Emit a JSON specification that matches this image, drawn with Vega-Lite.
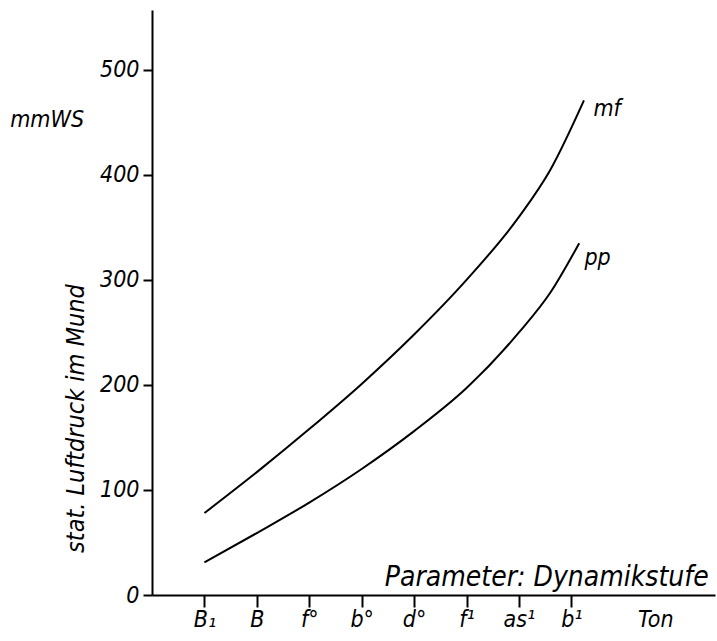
{
  "$schema": "https://vega.github.io/schema/vega-lite/v6.json",
  "width": 563,
  "height": 585,
  "autosize": "none",
  "padding": {"left": 152, "top": 10, "right": 2, "bottom": 46},
  "background": "white",
  "config": {
    "view": {"stroke": null},
    "font": "DejaVu Sans Condensed, DejaVu Sans",
    "axis": {
      "grid": false,
      "domainColor": "black",
      "domainWidth": 2,
      "tickColor": "black",
      "tickWidth": 2,
      "labelColor": "black",
      "labelFont": "DejaVu Sans Condensed, DejaVu Sans",
      "labelFontStyle": "italic",
      "labelFontSize": 23,
      "titleColor": "black",
      "titleFont": "DejaVu Sans Condensed, DejaVu Sans"
    }
  },
  "datasets": {
    "curves": [
      {"series": "mf", "x": 1, "y": 78},
      {"series": "mf", "x": 2, "y": 117},
      {"series": "mf", "x": 3, "y": 158},
      {"series": "mf", "x": 4, "y": 201},
      {"series": "mf", "x": 5, "y": 248},
      {"series": "mf", "x": 6, "y": 300},
      {"series": "mf", "x": 7, "y": 360},
      {"series": "mf", "x": 7.6, "y": 405},
      {"series": "mf", "x": 8.24, "y": 471},
      {"series": "pp", "x": 1, "y": 31},
      {"series": "pp", "x": 2, "y": 59},
      {"series": "pp", "x": 3, "y": 88},
      {"series": "pp", "x": 4, "y": 120},
      {"series": "pp", "x": 5, "y": 156},
      {"series": "pp", "x": 6, "y": 197},
      {"series": "pp", "x": 7, "y": 250},
      {"series": "pp", "x": 7.6, "y": 288},
      {"series": "pp", "x": 8.15, "y": 335}
    ],
    "labels": [
      {"text": "mf", "x": 8.42, "y": 463, "align": "left"},
      {"text": "pp", "x": 8.25, "y": 321, "align": "left"},
      {"text": "mmWS", "x": -2.0, "y": 452, "align": "center"},
      {"text": "Parameter: Dynamikstufe", "x": 10.62, "y": 9, "align": "right"}
    ]
  },
  "layer": [
    {
      "data": {"name": "curves"},
      "mark": {"type": "line", "color": "black", "strokeWidth": 2, "interpolate": "monotone"},
      "encoding": {
        "x": {
          "field": "x",
          "type": "quantitative",
          "scale": {"domain": [0, 10.74], "nice": false, "zero": false},
          "axis": {
            "title": null,
            "values": [1, 2, 3, 4, 5, 6, 7, 8, 9.6],
            "labelExpr": "datum.value > 9 ? 'Ton' : ['', 'B₁', 'B', 'f°', 'b°', 'd°', 'f¹', 'as¹', 'b¹'][datum.value]",
            "tickSize": 12,
            "labelPadding": 1,
            "labelFlush": false,
            "labelOverlap": false,
            "tickOpacity": {"condition": {"test": "datum.value > 9", "value": 0}, "value": 1}
          }
        },
        "y": {
          "field": "y",
          "type": "quantitative",
          "scale": {"domain": [0, 557], "nice": false, "zero": false},
          "axis": {
            "values": [0, 100, 200, 300, 400, 500],
            "tickSize": 9,
            "labelPadding": 4,
            "labelFlush": false,
            "labelOverlap": false,
            "title": "stat. Luftdruck im Mund",
            "titleFontSize": 25,
            "titleFontWeight": "normal",
            "titleFontStyle": "italic",
            "titleAngle": 270,
            "titleX": -77,
            "titleY": 408,
            "titleAlign": "center",
            "titleBaseline": "middle"
          }
        },
        "detail": {"field": "series", "type": "nominal"}
      }
    },
    {
      "data": {"name": "labels"},
      "transform": [{"filter": "datum.align == 'left'"}],
      "mark": {"type": "text", "fontSize": 23, "fontStyle": "italic", "color": "black", "baseline": "middle", "align": "left"},
      "encoding": {
        "x": {"field": "x", "type": "quantitative"},
        "y": {"field": "y", "type": "quantitative"},
        "text": {"field": "text"}
      }
    },
    {
      "data": {"name": "labels"},
      "transform": [{"filter": "datum.align == 'center'"}],
      "mark": {"type": "text", "fontSize": 23, "fontStyle": "italic", "color": "black", "baseline": "middle", "align": "center"},
      "encoding": {
        "x": {"field": "x", "type": "quantitative"},
        "y": {"field": "y", "type": "quantitative"},
        "text": {"field": "text"}
      }
    },
    {
      "data": {"name": "labels"},
      "transform": [{"filter": "datum.align == 'right'"}],
      "mark": {"type": "text", "fontSize": 28, "fontStyle": "italic", "color": "black", "baseline": "alphabetic", "align": "right"},
      "encoding": {
        "x": {"field": "x", "type": "quantitative"},
        "y": {"field": "y", "type": "quantitative"},
        "text": {"field": "text"}
      }
    }
  ]
}
